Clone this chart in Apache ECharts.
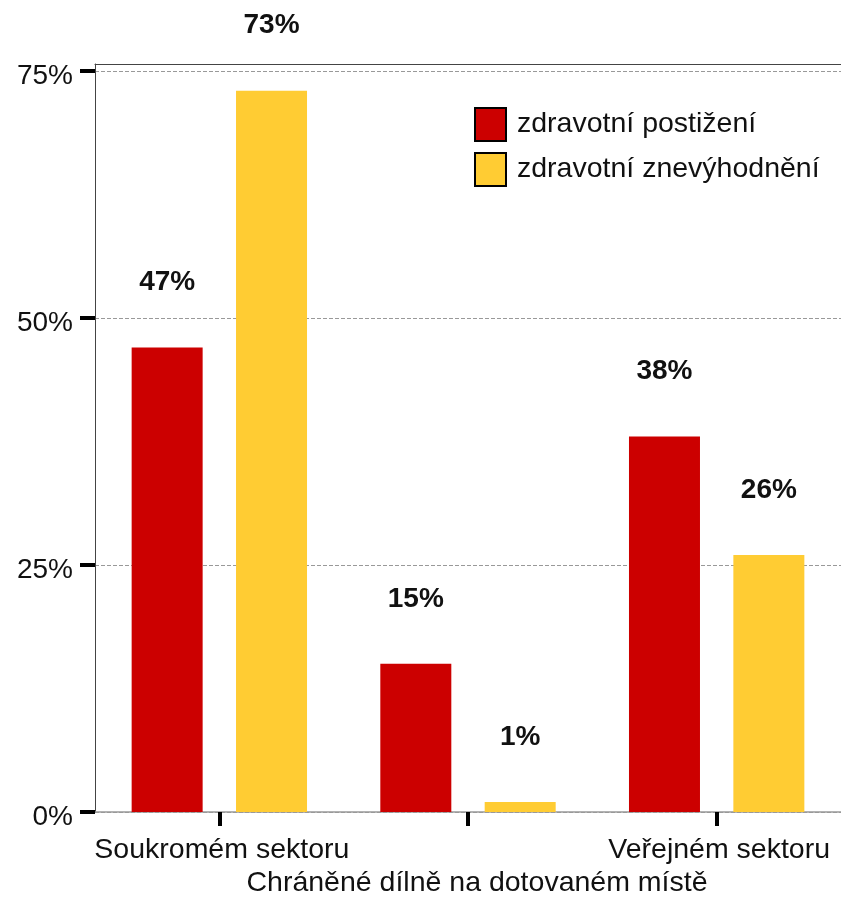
<!DOCTYPE html>
<html>
<head>
<meta charset="utf-8">
<script src="https://cdn.jsdelivr.net/npm/echarts@6/dist/echarts.min.js"></script>
<style>html,body{margin:0;padding:0;background:#fff}#c{width:841px;height:900px}</style>
</head>
<body>
<div id="c"></div>
<script>
const categories = ['Soukromém sektoru', 'Chráněné dílně na dotovaném místě', 'Veřejném sektoru'];
const seriesNames = ['zdravotní postižení', 'zdravotní znevýhodnění'];
const postizeni = [47, 15, 38];
const znevyhodneni = [73, 1, 26];
const yTicks = [0, 25, 50, 75];

const FONT = '"Liberation Sans", Arial, sans-serif';
const chart = echarts.init(document.getElementById('c'), null, {renderer: 'canvas'});

const labelCfg = {
  show: true, position: 'top', distance: 51,
  formatter: p => p.value + '%',
  fontFamily: FONT, fontSize: 28, fontWeight: 'bold', color: '#111'
};

chart.setOption({
  animation: false,
  backgroundColor: '#fff',
  color: ['#CC0000', '#FFCC33'],
  grid: {left: 95, right: 0, top: 64, bottom: 88, containLabel: false},
  legend: {
    orient: 'vertical', left: 474, top: 107, padding: 0,
    itemWidth: 31, itemHeight: 33, itemGap: 10,
    icon: 'rect',
    itemStyle: {borderColor: '#000', borderWidth: 2},
    textStyle: {fontFamily: FONT, fontSize: 28.5, color: '#111', padding: [0, 0, 0, 6]},
    data: seriesNames
  },
  xAxis: [{
    type: 'category', data: categories, position: 'bottom',
    axisLine: {show: true, lineStyle: {color: '#999', width: 1.5}},
    axisTick: {show: true, alignWithLabel: true, length: 14, lineStyle: {color: '#000', width: 4}},
    axisLabel: {
      interval: 0, margin: 22, fontFamily: FONT, fontSize: 28.5, color: '#111', lineHeight: 33,
      formatter: (v, i) => (i === 1 ? '\n{m|' + v + '}' : '{s|' + v + '}'),
      rich: {
        s: {fontFamily: FONT, fontSize: 28.5, color: '#111', lineHeight: 33, padding: [0, 0, 0, 5]},
        m: {fontFamily: FONT, fontSize: 28.5, color: '#111', lineHeight: 33, padding: [0, 0, 0, 18]}
      }
    }
  }, {
    type: 'category', data: categories, position: 'top', z: 10,
    axisLine: {show: true, lineStyle: {color: '#444', width: 1}},
    axisTick: {show: false}, axisLabel: {show: false}
  }],
  yAxis: {
    type: 'value', min: 0, max: 75.7, interval: 25,
    axisLine: {show: true, lineStyle: {color: '#444', width: 1}},
    axisTick: {show: true, length: 15, customValues: yTicks, lineStyle: {color: '#000', width: 4}},
    axisLabel: {
      customValues: yTicks, margin: 22, fontFamily: FONT, fontSize: 28, color: '#111',
      formatter: v => '{a|' + v + '%}',
      rich: {
        a: {fontFamily: FONT, fontSize: 28, color: '#111', padding: [10, 0, 0, 0]}
      }
    },
    splitLine: {show: true, lineStyle: {color: '#999', type: 'dashed', width: 1}}
  },
  series: [{
    name: seriesNames[0], type: 'bar', data: postizeni,
    barWidth: 71, barGap: '47%', label: labelCfg
  }, {
    name: seriesNames[1], type: 'bar', data: znevyhodneni,
    barWidth: 71, label: labelCfg
  }]
});
</script>
</body>
</html>
